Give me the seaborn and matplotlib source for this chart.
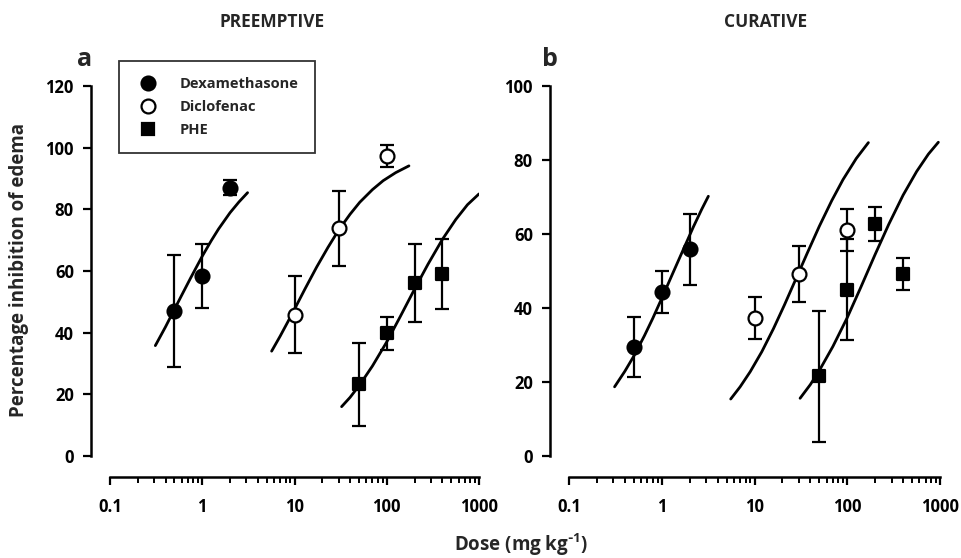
import pandas as pd
import seaborn as sns
import matplotlib.pyplot as plt
from matplotlib.lines import Line2D
from matplotlib.ticker import LogLocator, NullFormatter, FixedLocator, FixedFormatter

sns.set_theme(style="ticks")
plt.rcParams['font.family'] = ['Open Sans', 'DejaVu Sans']
plt.rcParams['font.weight'] = 'bold'
plt.rcParams['mathtext.default'] = 'regular'

drugs = ["Dexamethasone", "Diclofenac", "PHE"]

# panel a - preemptive
a_dex_dose = [0.5, 1, 2]
a_dex_mean = [47.1, 58.4, 87.0]
a_dex_sem = [18.2, 10.5, 2.4]
a_dic_dose = [10, 30, 100]
a_dic_mean = [45.8, 73.8, 97.2]
a_dic_sem = [12.5, 12.2, 3.6]
a_phe_dose = [50, 100, 200, 400]
a_phe_mean = [23.3, 39.8, 56.0, 59.0]
a_phe_sem = [13.5, 5.4, 12.6, 11.3]

# fitted curves
a_dex_fit_x = [0.31, 0.4, 0.5, 0.6, 0.75, 1.0, 1.25, 1.5, 2.0, 2.5, 3.1]
a_dex_fit_y = [35.8, 41.9, 47.6, 52.2, 57.8, 64.8, 69.8, 73.6, 78.9, 82.4, 85.4]
a_dic_fit_x = [5.65, 7, 8.5, 10, 13, 17.4, 23, 30, 40, 51, 70, 91.5, 125, 174]
a_dic_fit_y = [34.0, 38.9, 43.6, 47.6, 54.2, 61.3, 67.6, 73.2, 78.4, 82.3, 86.4, 89.3, 91.9, 94.1]
a_phe_fit_x = [32.4, 40, 51, 70, 100, 140, 200, 280, 400, 560, 750, 1000]
a_phe_fit_y = [16.0, 19.0, 23.1, 29.2, 37.0, 45.2, 54.1, 62.2, 70.2, 76.7, 81.5, 85.0]

# panel b - curative
b_dex_dose = [0.5, 1, 2]
b_dex_mean = [29.5, 44.3, 55.9]
b_dex_sem = [8.2, 5.7, 9.6]
b_dic_dose = [10, 30, 100]
b_dic_mean = [37.2, 49.2, 61.1]
b_dic_sem = [5.7, 7.6, 5.6]
b_phe_dose = [50, 100, 200, 400]
b_phe_mean = [21.6, 45.0, 62.6, 49.2]
b_phe_sem = [17.7, 13.6, 4.6, 4.2]

# fitted curves
b_dex_fit_x = [0.31, 0.4, 0.5, 0.65, 0.8, 1.0, 1.3, 1.7, 2.2, 2.7, 3.18]
b_dex_fit_y = [18.7, 22.9, 27.0, 32.5, 37.2, 42.6, 49.1, 55.7, 62.0, 66.7, 70.2]
b_dic_fit_x = [5.54, 7, 9, 12, 16, 21, 28, 37, 50, 68, 90, 125, 169]
b_dic_fit_y = [15.4, 18.7, 22.8, 28.2, 34.4, 40.8, 47.9, 54.8, 62.1, 69.0, 74.7, 80.4, 84.7]
b_phe_fit_x = [31, 40, 50, 70, 100, 140, 200, 280, 400, 560, 750, 960]
b_phe_fit_y = [15.6, 19.3, 23.1, 29.6, 37.4, 45.6, 54.5, 62.6, 70.5, 76.9, 81.6, 84.8]

x_ticks = [0.1, 1, 10, 100, 1000]
x_tick_labels = ["0.1", "1", "10", "100", "1000"]
a_y_ticks = [0, 20, 40, 60, 80, 100, 120]
b_y_ticks = [0, 20, 40, 60, 80, 100]

face = {"Dexamethasone": "black", "Diclofenac": "white", "PHE": "black"}
marker = {"Dexamethasone": "o", "Diclofenac": "o", "PHE": "s"}
msize = {"Dexamethasone": 100, "Diclofenac": 100, "PHE": 72}

fig = plt.figure(figsize=(9.61, 5.58), dpi=100)
ax_a = fig.add_axes([110 / 961, 102 / 558, 369 / 961, 370 / 558])
ax_b = fig.add_axes([569 / 961, 102 / 558, 371 / 961, 370 / 558])


def draw_panel(ax, points, fits, yticks):
    for (fx, fy) in fits:
        sns.lineplot(x=fx, y=fy, color="black", lw=2.0, ax=ax, zorder=2)
    for drug, (dose, mean, sem) in zip(drugs, points):
        ax.errorbar(dose, mean, yerr=sem, fmt="none", ecolor="black", elinewidth=1.6,
                    capsize=5.2, capthick=1.6, zorder=3)
        df = pd.DataFrame({"dose": dose, "pct": mean})
        sns.scatterplot(data=df, x="dose", y="pct", marker=marker[drug], color=face[drug],
                        edgecolor="black", linewidth=1.6, s=msize[drug], ax=ax, zorder=4)
    ax.set_xscale("log")
    ax.set_xlim(x_ticks[0], x_ticks[-1])
    ax.set_ylim(yticks[0], yticks[-1])
    ax.xaxis.set_major_locator(FixedLocator(x_ticks))
    ax.xaxis.set_major_formatter(FixedFormatter(x_tick_labels))
    ax.xaxis.set_minor_locator(LogLocator(base=10, subs=range(2, 10)))
    ax.xaxis.set_minor_formatter(NullFormatter())
    ax.set_yticks(yticks)
    ax.set_xlabel("")
    ax.set_ylabel("")
    sns.despine(ax=ax, offset={"left": 14, "bottom": 15})
    for s in ("left", "bottom"):
        ax.spines[s].set_linewidth(1.8)
        ax.spines[s].set_color("black")
    ax.tick_params(axis="both", which="major", length=6, width=1.6, labelsize=12,
                   colors="black")
    ax.tick_params(axis="x", which="major", pad=9)
    ax.tick_params(axis="x", which="minor", length=4, width=1.4, colors="black")
    ax.tick_params(axis="y", pad=6)
    for lab in ax.get_xticklabels() + ax.get_yticklabels():
        lab.set_fontweight("bold")


draw_panel(ax_a,
           [(a_dex_dose, a_dex_mean, a_dex_sem), (a_dic_dose, a_dic_mean, a_dic_sem),
            (a_phe_dose, a_phe_mean, a_phe_sem)],
           [(a_dex_fit_x, a_dex_fit_y), (a_dic_fit_x, a_dic_fit_y), (a_phe_fit_x, a_phe_fit_y)],
           a_y_ticks)
draw_panel(ax_b,
           [(b_dex_dose, b_dex_mean, b_dex_sem), (b_dic_dose, b_dic_mean, b_dic_sem),
            (b_phe_dose, b_phe_mean, b_phe_sem)],
           [(b_dex_fit_x, b_dex_fit_y), (b_dic_fit_x, b_dic_fit_y), (b_phe_fit_x, b_phe_fit_y)],
           b_y_ticks)

handles = [Line2D([], [], ls="none", marker=marker[d], markerfacecolor=face[d],
                  markeredgecolor="black", markeredgewidth=1.6,
                  markersize=10 if d != "PHE" else 8.5) for d in drugs]
leg = ax_a.legend(handles, drugs, loc="upper left", bbox_to_anchor=(0.024, 1.068),
                  borderaxespad=0, frameon=True, fancybox=False, fontsize=10.5,
                  borderpad=1.1, handlelength=1.8, handletextpad=1.3, labelspacing=0.62)
leg.get_frame().set_edgecolor("black")
leg.get_frame().set_linewidth(1.3)
for t in leg.get_texts():
    t.set_fontweight("bold")

fig.text(272 / 961, 1 - 22 / 558, "PREEMPTIVE", ha="center", va="center", fontsize=12.5, fontweight="bold")
fig.text(766 / 961, 1 - 22 / 558, "CURATIVE", ha="center", va="center", fontsize=12.5, fontweight="bold")
fig.text(85 / 961, 1 - 66 / 558, "a", ha="center", va="baseline", fontsize=18, fontweight="bold")
fig.text(550 / 961, 1 - 66 / 558, "b", ha="center", va="baseline", fontsize=18, fontweight="bold")
fig.text(19 / 961, 1 - 270 / 558, "Percentage inhibition of edema", rotation=90,
         ha="center", va="center", fontsize=13.5, fontweight="bold")
fig.text(521 / 961, 1 - 551 / 558, r"Dose (mg kg$^{\text{-}1}$)", ha="center", va="baseline",
         fontsize=13.5, fontweight="bold")

fig.savefig("out.png", dpi=100)
